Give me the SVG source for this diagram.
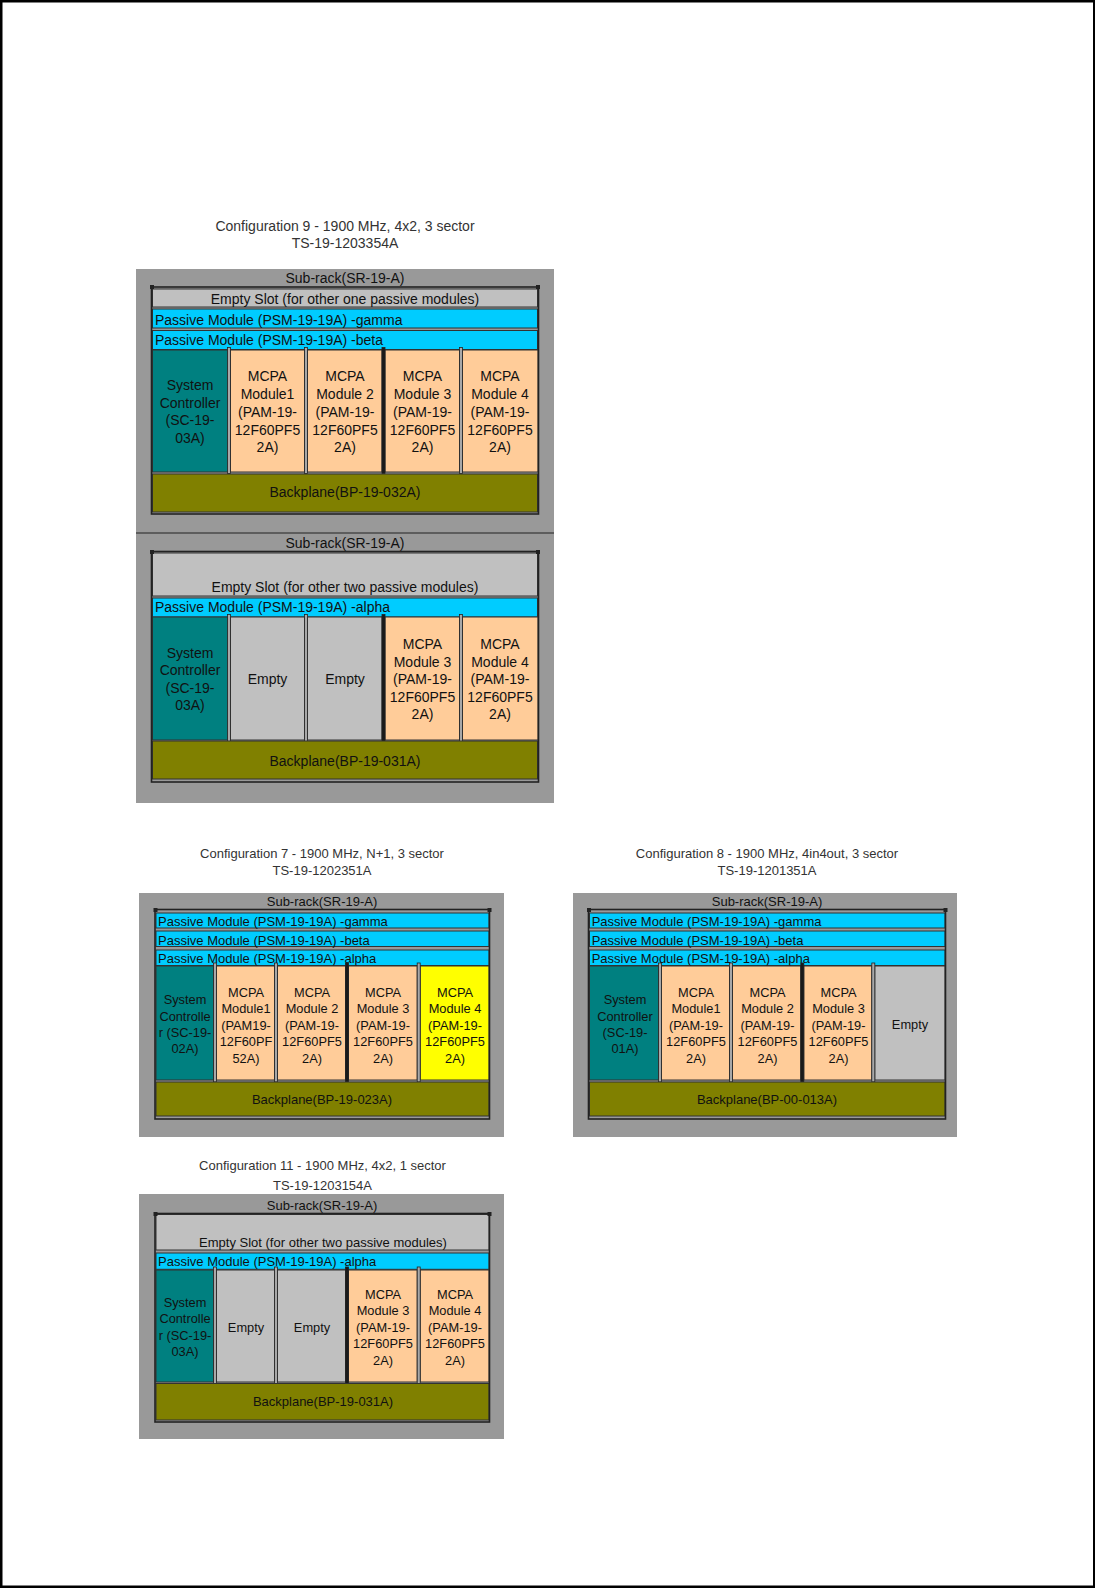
<svg xmlns="http://www.w3.org/2000/svg" width="1095" height="1588" viewBox="0 0 1095 1588">
<style>
text{font-family:"Liberation Sans",Arial,sans-serif;fill:#111}
.c{text-anchor:middle}
.f14{font-size:14px}
.f13{font-size:13px}
.f12{font-size:12.8px}
.title{fill:#333}
.bg{fill:#999999}
.frame{fill:none;stroke:#222;stroke-width:1.6}
.post{fill:#222}
.row{stroke:#333;stroke-width:1}
.es{fill:#c0c0c0}
.pm{fill:#00ccff}
.sc{fill:#008080}
.mc{fill:#ffcc99}
.em{fill:#c0c0c0}
.yl{fill:#ffff00}
.bp{fill:#808000}
.sep{fill:#a8a8a8;stroke:#222;stroke-width:0.8}
.sepk{fill:#1a1a1a;stroke:#222;stroke-width:0.8}
.div{stroke:#222;stroke-width:1.2}
</style>
<rect x="1.25" y="1.25" width="1093" height="1585.5" fill="#fff" stroke="#000" stroke-width="2.5"/>

<!-- Configuration 9 -->
<g id="config9">
<text class="c f14 title" x="345" y="230.5">Configuration 9 - 1900 MHz, 4x2, 3 sector</text>
<text class="c f14 title" x="345" y="248">TS-19-1203354A</text>
<rect class="bg" x="136" y="269" width="418" height="534"/>
<line class="div" x1="136" y1="533" x2="554" y2="533"/>

<g id="c9a-rack">
<text class="c f14" x="345" y="282.5">Sub-rack(SR-19-A)</text>
<g id="c9a-empty-slot"><rect class="row es" x="152.5" y="289" width="385" height="18"/><text class="c f14" x="345" y="304">Empty Slot (for other one passive modules)</text></g>
<g id="c9a-psm-gamma"><rect class="row pm" x="152.5" y="309" width="385" height="19"/><text class="f14" x="155" y="325">Passive Module (PSM-19-19A) -gamma</text></g>
<g id="c9a-psm-beta"><rect class="row pm" x="152.5" y="330.5" width="385" height="19"/><text class="f14" x="155" y="345">Passive Module (PSM-19-19A) -beta</text></g>
<g id="c9a-sc"><rect class="row sc" x="152.5" y="350" width="75.5" height="122"/>
<text class="c f14" x="190" y="390">System</text><text class="c f14" x="190" y="407.5">Controller</text><text class="c f14" x="190" y="425">(SC-19-</text><text class="c f14" x="190" y="442.5">03A)</text></g>
<g id="c9a-mcpa1"><rect class="row mc" x="230.5" y="350" width="74" height="122"/>
<text class="c f14" x="267.5" y="381">MCPA</text><text class="c f14" x="267.5" y="399">Module1</text><text class="c f14" x="267.5" y="416.5">(PAM-19-</text><text class="c f14" x="267.5" y="434.5">12F60PF5</text><text class="c f14" x="267.5" y="452">2A)</text></g>
<g id="c9a-mcpa2"><rect class="row mc" x="307.5" y="350" width="74.5" height="122"/>
<text class="c f14" x="345" y="381">MCPA</text><text class="c f14" x="345" y="399">Module 2</text><text class="c f14" x="345" y="416.5">(PAM-19-</text><text class="c f14" x="345" y="434.5">12F60PF5</text><text class="c f14" x="345" y="452">2A)</text></g>
<g id="c9a-mcpa3"><rect class="row mc" x="385" y="350" width="74.5" height="122"/>
<text class="c f14" x="422.5" y="381">MCPA</text><text class="c f14" x="422.5" y="399">Module 3</text><text class="c f14" x="422.5" y="416.5">(PAM-19-</text><text class="c f14" x="422.5" y="434.5">12F60PF5</text><text class="c f14" x="422.5" y="452">2A)</text></g>
<g id="c9a-mcpa4"><rect class="row mc" x="462.5" y="350" width="75.5" height="122"/>
<text class="c f14" x="500" y="381">MCPA</text><text class="c f14" x="500" y="399">Module 4</text><text class="c f14" x="500" y="416.5">(PAM-19-</text><text class="c f14" x="500" y="434.5">12F60PF5</text><text class="c f14" x="500" y="452">2A)</text></g>
<g id="c9a-seps"><rect class="sep" x="227.5" y="347.5" width="3" height="126"/><rect class="sep" x="304.5" y="347.5" width="3" height="126"/><rect class="sepk" x="382" y="347.5" width="3" height="126"/><rect class="sep" x="459.5" y="347.5" width="3" height="126"/></g>
<g id="c9a-backplane"><rect class="row bp" x="152.5" y="474" width="385" height="38"/><text class="c f14" x="345" y="497">Backplane(BP-19-032A)</text></g>
<rect class="frame" x="151.5" y="287" width="387" height="227"/>
<rect class="post" x="150" y="285" width="4" height="4"/><rect class="post" x="536" y="285" width="4" height="4"/>
</g>

<g id="c9b-rack">
<text class="c f14" x="345" y="547.5">Sub-rack(SR-19-A)</text>
<g id="c9b-empty-slot"><rect class="row es" x="152.5" y="553" width="385" height="43"/><text class="c f14" x="345" y="591.5">Empty Slot (for other two passive modules)</text></g>
<g id="c9b-psm-alpha"><rect class="row pm" x="152.5" y="598" width="385" height="19"/><text class="f14" x="155" y="612.3">Passive Module (PSM-19-19A) -alpha</text></g>
<g id="c9b-sc"><rect class="row sc" x="152.5" y="617" width="75.5" height="123"/>
<text class="c f14" x="190" y="657.5">System</text><text class="c f14" x="190" y="675">Controller</text><text class="c f14" x="190" y="692.5">(SC-19-</text><text class="c f14" x="190" y="710">03A)</text></g>
<g id="c9b-empty1"><rect class="row em" x="230.5" y="617" width="74" height="123"/><text class="c f14" x="267.5" y="684">Empty</text></g>
<g id="c9b-empty2"><rect class="row em" x="307.5" y="617" width="74.5" height="123"/><text class="c f14" x="345" y="684">Empty</text></g>
<g id="c9b-mcpa3"><rect class="row mc" x="385" y="617" width="74.5" height="123"/>
<text class="c f14" x="422.5" y="649">MCPA</text><text class="c f14" x="422.5" y="666.5">Module 3</text><text class="c f14" x="422.5" y="684">(PAM-19-</text><text class="c f14" x="422.5" y="701.5">12F60PF5</text><text class="c f14" x="422.5" y="719">2A)</text></g>
<g id="c9b-mcpa4"><rect class="row mc" x="462.5" y="617" width="75.5" height="123"/>
<text class="c f14" x="500" y="649">MCPA</text><text class="c f14" x="500" y="666.5">Module 4</text><text class="c f14" x="500" y="684">(PAM-19-</text><text class="c f14" x="500" y="701.5">12F60PF5</text><text class="c f14" x="500" y="719">2A)</text></g>
<g id="c9b-seps"><rect class="sep" x="227.5" y="614.5" width="3" height="128"/><rect class="sep" x="304.5" y="614.5" width="3" height="128"/><rect class="sepk" x="382" y="614.5" width="3" height="128"/><rect class="sep" x="459.5" y="614.5" width="3" height="128"/></g>
<g id="c9b-backplane"><rect class="row bp" x="152.5" y="741" width="385" height="38"/><text class="c f14" x="345" y="765.5">Backplane(BP-19-031A)</text></g>
<rect class="frame" x="151.5" y="551.5" width="387" height="230.5"/>
<rect class="post" x="150" y="550" width="4" height="4"/><rect class="post" x="536" y="550" width="4" height="4"/>
</g>
</g>

<!-- Configuration 7 -->
<g id="config7">
<text class="c f13 title" x="322" y="858">Configuration 7 - 1900 MHz, N+1, 3 sector</text>
<text class="c f13 title" x="322" y="875">TS-19-1202351A</text>
<rect class="bg" x="139" y="893" width="365" height="244"/>
<text class="c f13" x="322" y="906">Sub-rack(SR-19-A)</text>
<g id="c7-psm-gamma"><rect class="row pm" x="156" y="913" width="333" height="15"/><text class="f13" x="158" y="925.5">Passive Module (PSM-19-19A) -gamma</text></g>
<g id="c7-psm-beta"><rect class="row pm" x="156" y="931" width="333" height="15.5"/><text class="f13" x="158" y="944.5">Passive Module (PSM-19-19A) -beta</text></g>
<g id="c7-psm-alpha"><rect class="row pm" x="156" y="950" width="333" height="15.5"/><text class="f13" x="158" y="962.5">Passive Module (PSM-19-19A) -alpha</text></g>
<g id="c7-sc"><rect class="row sc" x="156" y="966" width="57.5" height="114"/>
<text class="c f12" x="185" y="1004">System</text><text class="c f12" x="185" y="1020.5">Controlle</text><text class="c f12" x="185" y="1037">r (SC-19-</text><text class="c f12" x="185" y="1053">02A)</text></g>
<g id="c7-mcpa1"><rect class="row mc" x="216.5" y="966" width="58" height="114"/>
<text class="c f12" x="246" y="996.5">MCPA</text><text class="c f12" x="246" y="1013">Module1</text><text class="c f12" x="246" y="1029.5">(PAM19-</text><text class="c f12" x="246" y="1046">12F60PF</text><text class="c f12" x="246" y="1062.5">52A)</text></g>
<g id="c7-mcpa2"><rect class="row mc" x="277.5" y="966" width="68" height="114"/>
<text class="c f12" x="312" y="996.5">MCPA</text><text class="c f12" x="312" y="1013">Module 2</text><text class="c f12" x="312" y="1029.5">(PAM-19-</text><text class="c f12" x="312" y="1046">12F60PF5</text><text class="c f12" x="312" y="1062.5">2A)</text></g>
<g id="c7-mcpa3"><rect class="row mc" x="348.5" y="966" width="68.7" height="114"/>
<text class="c f12" x="383" y="996.5">MCPA</text><text class="c f12" x="383" y="1013">Module 3</text><text class="c f12" x="383" y="1029.5">(PAM-19-</text><text class="c f12" x="383" y="1046">12F60PF5</text><text class="c f12" x="383" y="1062.5">2A)</text></g>
<g id="c7-mcpa4"><rect class="row yl" x="420.2" y="966" width="68.8" height="114"/>
<text class="c f12" x="455" y="996.5">MCPA</text><text class="c f12" x="455" y="1013">Module 4</text><text class="c f12" x="455" y="1029.5">(PAM-19-</text><text class="c f12" x="455" y="1046">12F60PF5</text><text class="c f12" x="455" y="1062.5">2A)</text></g>
<g id="c7-seps"><rect class="sep" x="213.5" y="963" width="3" height="119"/><rect class="sep" x="274.5" y="963" width="3" height="119"/><rect class="sepk" x="345.5" y="963" width="3" height="119"/><rect class="sep" x="417.2" y="963" width="3" height="119"/></g>
<g id="c7-backplane"><rect class="row bp" x="156" y="1082" width="333" height="34"/><text class="c f13" x="322" y="1104">Backplane(BP-19-023A)</text></g>
<rect class="frame" x="155" y="909.5" width="334.5" height="209.5"/>
<rect class="post" x="153.5" y="908" width="4" height="4"/><rect class="post" x="487.5" y="908" width="4" height="4"/>
</g>

<!-- Configuration 8 -->
<g id="config8">
<text class="c f13 title" x="767" y="858">Configuration 8 - 1900 MHz, 4in4out, 3 sector</text>
<text class="c f13 title" x="767" y="875">TS-19-1201351A</text>
<rect class="bg" x="573" y="893" width="384" height="244"/>
<text class="c f13" x="767" y="906">Sub-rack(SR-19-A)</text>
<g id="c8-psm-gamma"><rect class="row pm" x="589.5" y="913" width="355.5" height="15"/><text class="f13" x="591.7" y="925.5">Passive Module (PSM-19-19A) -gamma</text></g>
<g id="c8-psm-beta"><rect class="row pm" x="589.5" y="931" width="355.5" height="15.5"/><text class="f13" x="591.7" y="944.5">Passive Module (PSM-19-19A) -beta</text></g>
<g id="c8-psm-alpha"><rect class="row pm" x="589.5" y="950" width="355.5" height="15.5"/><text class="f13" x="591.7" y="962.5">Passive Module (PSM-19-19A) -alpha</text></g>
<g id="c8-sc"><rect class="row sc" x="589.5" y="966" width="69" height="114"/>
<text class="c f12" x="625" y="1004">System</text><text class="c f12" x="625" y="1020.5">Controller</text><text class="c f12" x="625" y="1037">(SC-19-</text><text class="c f12" x="625" y="1053">01A)</text></g>
<g id="c8-mcpa1"><rect class="row mc" x="661.5" y="966" width="68" height="114"/>
<text class="c f12" x="696" y="996.5">MCPA</text><text class="c f12" x="696" y="1013">Module1</text><text class="c f12" x="696" y="1029.5">(PAM-19-</text><text class="c f12" x="696" y="1046">12F60PF5</text><text class="c f12" x="696" y="1062.5">2A)</text></g>
<g id="c8-mcpa2"><rect class="row mc" x="732.5" y="966" width="68.3" height="114"/>
<text class="c f12" x="767.5" y="996.5">MCPA</text><text class="c f12" x="767.5" y="1013">Module 2</text><text class="c f12" x="767.5" y="1029.5">(PAM-19-</text><text class="c f12" x="767.5" y="1046">12F60PF5</text><text class="c f12" x="767.5" y="1062.5">2A)</text></g>
<g id="c8-mcpa3"><rect class="row mc" x="803.8" y="966" width="68" height="114"/>
<text class="c f12" x="838.5" y="996.5">MCPA</text><text class="c f12" x="838.5" y="1013">Module 3</text><text class="c f12" x="838.5" y="1029.5">(PAM-19-</text><text class="c f12" x="838.5" y="1046">12F60PF5</text><text class="c f12" x="838.5" y="1062.5">2A)</text></g>
<g id="c8-empty"><rect class="row em" x="874.8" y="966" width="70.2" height="114"/><text class="c f12" x="910" y="1028.5">Empty</text></g>
<g id="c8-seps"><rect class="sep" x="658.5" y="963" width="3" height="119"/><rect class="sep" x="729.5" y="963" width="3" height="119"/><rect class="sepk" x="800.8" y="963" width="3" height="119"/><rect class="sep" x="871.8" y="963" width="3" height="119"/></g>
<g id="c8-backplane"><rect class="row bp" x="589.5" y="1082" width="355.5" height="34"/><text class="c f13" x="767" y="1104">Backplane(BP-00-013A)</text></g>
<rect class="frame" x="588.5" y="909.5" width="357" height="209.5"/>
<rect class="post" x="587" y="908" width="4" height="4"/><rect class="post" x="943.5" y="908" width="4" height="4"/>
</g>

<!-- Configuration 11 -->
<g id="config11">
<text class="c f13 title" x="322.5" y="1169.5">Configuration 11 - 1900 MHz, 4x2, 1 sector</text>
<text class="c f13 title" x="322.5" y="1190">TS-19-1203154A</text>
<rect class="bg" x="139" y="1194" width="365" height="245"/>
<text class="c f13" x="322" y="1210">Sub-rack(SR-19-A)</text>
<g id="c11-empty-slot"><rect class="row es" x="156" y="1214.5" width="333" height="35.5"/><text class="c f13" x="323" y="1246.8">Empty Slot (for other two passive modules)</text></g>
<g id="c11-psm-alpha"><rect class="row pm" x="156" y="1253" width="333" height="16.3"/><text class="f13" x="158" y="1266">Passive Module (PSM-19-19A) -alpha</text></g>
<g id="c11-sc"><rect class="row sc" x="156" y="1270" width="57.5" height="112"/>
<text class="c f12" x="185" y="1307">System</text><text class="c f12" x="185" y="1323">Controlle</text><text class="c f12" x="185" y="1339.5">r (SC-19-</text><text class="c f12" x="185" y="1355.5">03A)</text></g>
<g id="c11-empty1"><rect class="row em" x="216.5" y="1270" width="58" height="112"/><text class="c f12" x="246" y="1331.8">Empty</text></g>
<g id="c11-empty2"><rect class="row em" x="277.5" y="1270" width="68" height="112"/><text class="c f12" x="312" y="1331.8">Empty</text></g>
<g id="c11-mcpa3"><rect class="row mc" x="348.5" y="1270" width="68.7" height="112"/>
<text class="c f12" x="383" y="1298.8">MCPA</text><text class="c f12" x="383" y="1315.2">Module 3</text><text class="c f12" x="383" y="1331.8">(PAM-19-</text><text class="c f12" x="383" y="1348.2">12F60PF5</text><text class="c f12" x="383" y="1364.5">2A)</text></g>
<g id="c11-mcpa4"><rect class="row mc" x="420.2" y="1270" width="68.8" height="112"/>
<text class="c f12" x="455" y="1298.8">MCPA</text><text class="c f12" x="455" y="1315.2">Module 4</text><text class="c f12" x="455" y="1331.8">(PAM-19-</text><text class="c f12" x="455" y="1348.2">12F60PF5</text><text class="c f12" x="455" y="1364.5">2A)</text></g>
<g id="c11-seps"><rect class="sep" x="213.5" y="1267" width="3" height="117"/><rect class="sep" x="274.5" y="1267" width="3" height="117"/><rect class="sepk" x="345.5" y="1267" width="3" height="117"/><rect class="sep" x="417.2" y="1267" width="3" height="117"/></g>
<g id="c11-backplane"><rect class="row bp" x="156" y="1383.5" width="333" height="36.5"/><text class="c f13" x="323" y="1406.2">Backplane(BP-19-031A)</text></g>
<rect class="frame" x="155" y="1213.5" width="334.5" height="208.5"/>
<rect class="post" x="153.5" y="1212" width="4" height="4"/><rect class="post" x="487.5" y="1212" width="4" height="4"/>
</g>
</svg>
